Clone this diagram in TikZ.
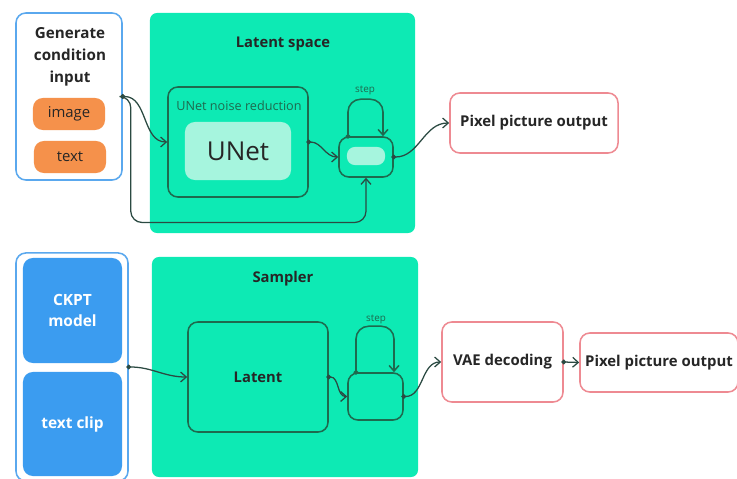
\documentclass[tikz,border=0pt]{standalone}
\usepackage{fontspec}
\setmainfont{Open Sans}
\usetikzlibrary{arrows.meta}

\definecolor{panelgreen}{HTML}{0DEAB4}
\definecolor{darkgreen}{HTML}{1E6A4E}
\definecolor{mint}{HTML}{A6F5DE}
\definecolor{orangebox}{HTML}{F5914B}
\definecolor{bluebox}{HTML}{3B9CF0}
\definecolor{blueline}{HTML}{5AA8EE}
\definecolor{pinkline}{HTML}{EE8A92}
\definecolor{wirecol}{HTML}{2B4A42}

\begin{document}
\begin{tikzpicture}[x=0.025cm, y=-0.025cm,
    panel/.style={fill=panelgreen, rounded corners=5pt, inner sep=0pt},
    greenbox/.style={draw=darkgreen, line width=1.1pt, fill=panelgreen, rounded corners=7pt, inner sep=0pt},
    outbox/.style={draw=pinkline, line width=1.1pt, fill=white, rounded corners=7pt,
        font=\bfseries\fontsize{10.6}{12}\selectfont, text=black!85},
    tag/.style={fill=orangebox, rounded corners=7pt, minimum width=1.8cm, minimum height=0.8cm,
        font=\fontsize{10.6}{12}\selectfont, text=black!85},
    bluetile/.style={fill=bluebox, rounded corners=7pt, minimum width=2.475cm,
        font=\bfseries\fontsize{11}{15}\selectfont, text=white, align=center},
    title/.style={font=\bfseries\fontsize{10.5}{12}\selectfont, text=black!85},
    steplabel/.style={font=\fontsize{7}{8}\selectfont, text=darkgreen},
    conn/.style={draw=wirecol, line width=0.9pt, shorten <=-1.7pt,
        {Circle[length=3.4pt]}-{Straight Barb[length=4pt,width=7pt]}},
    loop/.style={draw=darkgreen, line width=1.1pt, rounded corners=9pt, shorten <=-1.7pt,
        {Circle[length=3.4pt]}-{Straight Barb[length=4pt,width=7pt]}}]

    \clip (0,0) rectangle (737,479);

    % Top row
    \node[draw=blueline, line width=1.1pt, fill=white, rounded corners=7pt,
        minimum width=2.65cm, minimum height=4.175cm] (gen) at (69,96.5) {};
    \node[title, align=center, font=\bfseries\fontsize{10.8}{15.5}\selectfont] (gentitle) at (70,57) {Generate\\condition\\input};
    \node[tag] (image) at (69,114) {image};
    \node[tag] (text) at (70,157) {text};

    \node[panel, minimum width=6.625cm, minimum height=5.5cm] (latentspace) at (282.5,123) {};
    \node[title] (lstitle) at (283,44) {Latent space};

    \node[greenbox, minimum width=3.5cm, minimum height=2.75cm] (unetbox) at (238,142) {};
    \node[font=\fontsize{9}{10}\selectfont, text=darkgreen] (unetlabel) at (239,106) {UNet noise reduction};
    \node[fill=mint, rounded corners=7pt, minimum width=2.65cm, minimum height=1.45cm,
        font=\fontsize{18.5}{20}\selectfont, text=black!85] (unet) at (238,151) {UNet};

    \node[greenbox, minimum width=1.35cm, minimum height=1.0cm] (stepA) at (366,157) {};
    \node[fill=mint, rounded corners=5.5pt, minimum width=0.95cm, minimum height=0.45cm, inner sep=0pt] (pill) at (366,156) {};
    \node[steplabel] (stepAlabel) at (365,90) {step};

    \node[outbox, minimum width=4.2cm, minimum height=1.5cm] (outA) at (534,123) {Pixel picture output};

    % Top connectors
    \draw[conn] (gen.east) to[out=0, in=180] (unetbox.west);
    \draw[conn, rounded corners=8pt] (gen.east) -- ++(8,0) -- ++(0,126) -| (stepA.south);
    \draw[conn] (unetbox.east) to[out=0, in=180] (stepA.west);
    \draw[loop] ([xshift=-0.45cm]stepA.north) -- ++(0,-37) -| ([xshift=0.425cm]stepA.north);
    \draw[conn] (stepA.east) to[out=0, in=180] (outA.west);

    % Bottom row
    \node[draw=blueline, line width=1.1pt, fill=white, rounded corners=7pt,
        minimum width=2.8cm, minimum height=5.7cm] (models) at (72,367) {};
    \node[bluetile, minimum height=2.625cm] (ckpt) at (72.5,310.5) {CKPT\\model};
    \node[bluetile, minimum height=2.6cm] (clip) at (72.5,424) {text clip};

    \node[panel, minimum width=6.65cm, minimum height=5.5cm] (sampler) at (285,367) {};
    \node[title] (samplertitle) at (283,279) {Sampler};

    \node[greenbox, minimum width=3.5cm, minimum height=2.75cm,
        font=\bfseries\fontsize{10.5}{12}\selectfont, text=black!85] (latent) at (258,377) {Latent};

    \node[greenbox, minimum width=1.375cm, minimum height=1.175cm] (stepB) at (375.5,396.5) {};
    \node[steplabel] (stepBlabel) at (376,319) {step};

    \node[outbox, minimum width=3.025cm, minimum height=2cm] (vae) at (502.5,362) {VAE decoding};
    \node[outbox, minimum width=3.95cm, minimum height=1.475cm] (outB) at (659,362.5) {Pixel picture output};

    % Bottom connectors
    \draw[conn] (models.east) to[out=0, in=180] (latent.west);
    \draw[conn] (latent.east) to[out=0, in=180] (stepB.west);
    \draw[loop] ([xshift=-0.4875cm]stepB.north) -- ++(0,-46) -| ([xshift=0.4625cm]stepB.north);
    \draw[conn] (stepB.east) to[out=0, in=180] (vae.west);
    \draw[conn] (vae.east) -- (outB.west);
\end{tikzpicture}
\end{document}
